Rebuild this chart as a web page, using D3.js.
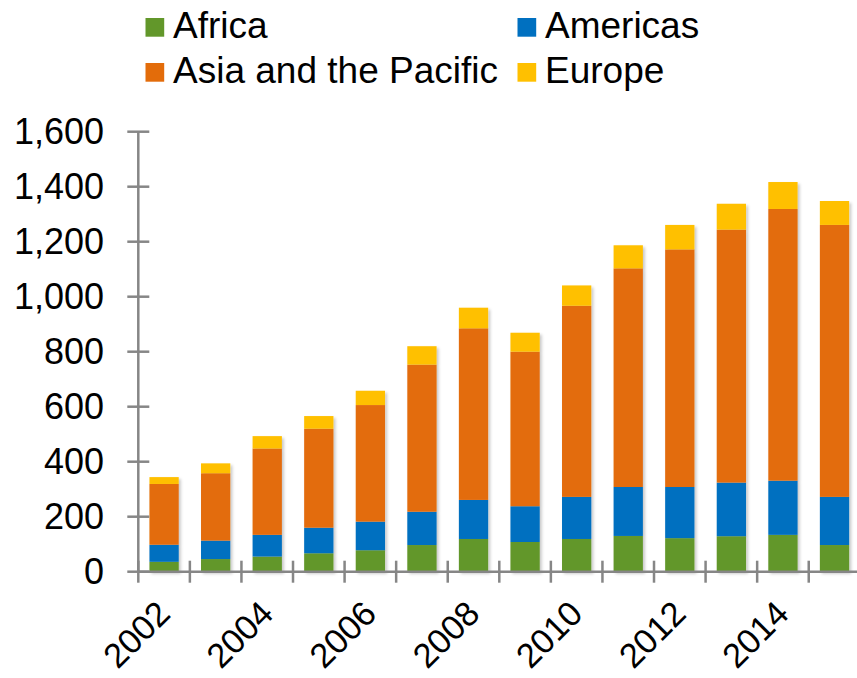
<!DOCTYPE html>
<html>
<head>
<meta charset="utf-8">
<script src="https://cdn.jsdelivr.net/npm/d3@7/dist/d3.min.js"></script>
<style>
  html, body { margin: 0; padding: 0; background: #ffffff; }
  svg { display: block; }
  text { font-family: "Liberation Sans", Arial, sans-serif; fill: #000; }
</style>
</head>
<body>
<svg id="chart" width="857" height="678"></svg>
<script>
// Years on the category axis
const years = [2002, 2003, 2004, 2005, 2006, 2007, 2008, 2009, 2010, 2011, 2012, 2013, 2014, 2015];
// Regional values per year
const africa   = [36, 46, 55, 67, 78, 97, 119, 108, 119, 130, 122, 129, 134, 97];
const americas = [62, 67, 79, 93, 104, 121, 142, 130, 153, 178, 186, 195, 197, 175];
const asiaPac  = [221, 245, 314, 360, 424, 535, 624, 562, 695, 795, 864, 920, 988, 989];
const europe   = [25, 36, 45, 46, 52, 67, 75, 69, 74, 84, 89, 94, 98, 87];
// Series names, colours and axis labels
const seriesNames = ["Africa", "Americas", "Asia and the Pacific", "Europe"];
const seriesColors = ["#62972A", "#0070C0", "#E36C0A", "#FFC000"];
const yTicks = [0, 200, 400, 600, 800, 1000, 1200, 1400, 1600];
const xLabelYears = [2002, 2004, 2006, 2008, 2010, 2012, 2014];

const seriesValues = [africa, americas, asiaPac, europe];
const rows = years.map((yr, i) => {
  const r = { year: yr };
  seriesNames.forEach((n, k) => { r[n] = seriesValues[k][i]; });
  return r;
});

const svg = d3.select("#chart");
const axisColor = "#868686";

const x = d3.scaleBand()
  .domain(years)
  .range([138.3, 860.3])
  .paddingInner(0.432)
  .paddingOuter(0.216);

const y = d3.scaleLinear()
  .domain([0, 1600])
  .range([571.7, 131.7]);

// soft shadow under the bars
const defs = svg.append("defs");
const f = defs.append("filter").attr("id", "barShadow")
  .attr("x", "-20%").attr("y", "-5%").attr("width", "150%").attr("height", "115%");
f.append("feDropShadow")
  .attr("dx", 2).attr("dy", 2).attr("stdDeviation", 1.6)
  .attr("flood-color", "#000").attr("flood-opacity", 0.22);

const stacked = d3.stack().keys(seriesNames)(rows);

const barsG = svg.append("g").attr("filter", "url(#barShadow)");
barsG.selectAll("g.series")
  .data(stacked)
  .join("g")
  .attr("class", "series")
  .attr("fill", (d, i) => seriesColors[i])
  .selectAll("rect")
  .data(d => d)
  .join("rect")
  .attr("x", d => x(d.data.year))
  .attr("width", x.bandwidth())
  .attr("y", d => y(d[1]))
  .attr("height", d => y(d[0]) - y(d[1]));

// Y axis
const yAxisX = x.range()[0];
const yAx = svg.append("g");
yAx.append("line")
  .attr("x1", yAxisX).attr("x2", yAxisX)
  .attr("y1", y(1600)).attr("y2", y(0))
  .attr("stroke", axisColor).attr("stroke-width", 2.5);
yAx.selectAll("line.tick")
  .data(yTicks)
  .join("line")
  .attr("class", "tick")
  .attr("x1", yAxisX - 11).attr("x2", yAxisX + 11)
  .attr("y1", d => y(d)).attr("y2", d => y(d))
  .attr("stroke", axisColor).attr("stroke-width", 2.5);
yAx.selectAll("text")
  .data(yTicks)
  .join("text")
  .attr("x", 104)
  .attr("y", d => y(d))
  .attr("dy", "0.35em")
  .attr("text-anchor", "end")
  .style("font-size", "36px")
  .text(d => d3.format(",")(d));

// X axis
const xAx = svg.append("g");
xAx.append("line")
  .attr("x1", x.range()[0]).attr("x2", x.range()[1])
  .attr("y1", y(0)).attr("y2", y(0))
  .attr("stroke", axisColor).attr("stroke-width", 2.5);
const bounds = years.map(yr => x(yr) + x.bandwidth() / 2 - x.step() / 2);
bounds.push(x(years[years.length - 1]) + x.bandwidth() / 2 + x.step() / 2);
xAx.selectAll("line.tick")
  .data(bounds)
  .join("line")
  .attr("class", "tick")
  .attr("x1", d => d).attr("x2", d => d)
  .attr("y1", y(0) - 11).attr("y2", y(0) + 11)
  .attr("stroke", axisColor).attr("stroke-width", 2.5);
xAx.selectAll("text")
  .data(xLabelYears)
  .join("text")
  .attr("text-anchor", "end")
  .attr("transform", d => `translate(${x(d) + x.bandwidth() / 2 + 8},${y(0) + 44}) rotate(-45)`)
  .style("font-size", "34.5px")
  .text(d => d);

// Legend
const legendItems = [
  { name: "Africa", color: seriesColors[0], sx: 145.5, tx: 173, base: 37.5 },
  { name: "Americas", color: seriesColors[1], sx: 517.5, tx: 545, base: 37.5 },
  { name: "Asia and the Pacific", color: seriesColors[2], sx: 145.5, tx: 173, base: 82.5 },
  { name: "Europe", color: seriesColors[3], sx: 517.5, tx: 545, base: 82.5 }
];
const lg = svg.append("g");
lg.selectAll("rect")
  .data(legendItems)
  .join("rect")
  .attr("x", d => d.sx)
  .attr("y", d => d.base - 19.5)
  .attr("width", 18.7)
  .attr("height", 18.7)
  .attr("fill", d => d.color);
lg.selectAll("text")
  .data(legendItems)
  .join("text")
  .attr("x", d => d.tx)
  .attr("y", d => d.base)
  .style("font-size", "37px")
  .text(d => d.name);
</script>
</body>
</html>
